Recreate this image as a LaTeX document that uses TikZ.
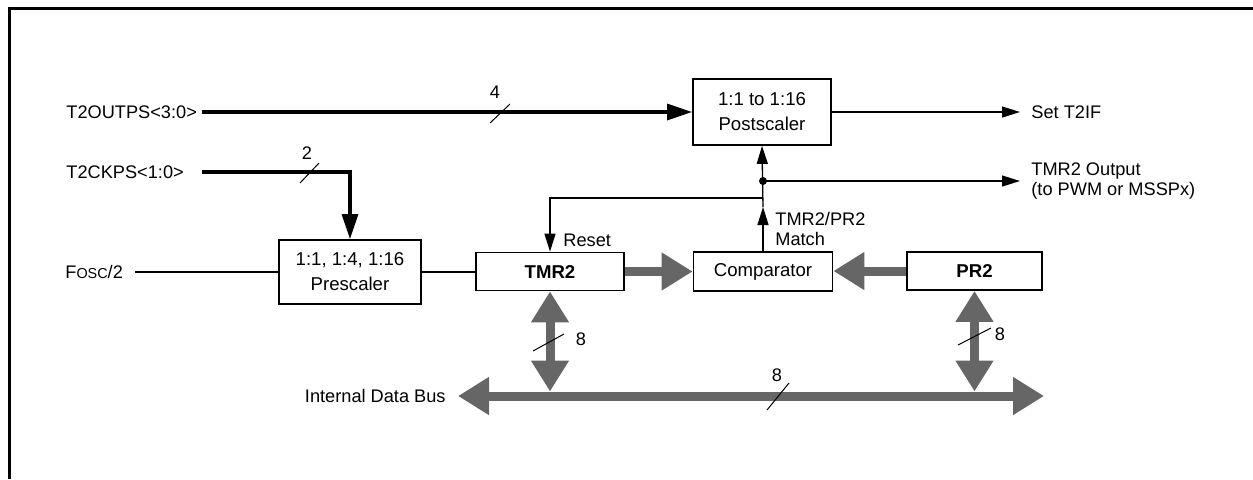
\documentclass[tikz,border=0pt]{standalone}
\usepackage{fontspec}
\setmainfont{Liberation Sans}
\usetikzlibrary{arrows.meta,positioning,calc}
\definecolor{busgray}{RGB}{102,102,102}

\begin{document}
\begin{tikzpicture}[x=0.5pt,y=-0.5pt,
    font=\fontsize{9.1}{10}\selectfont,
    blk/.style={draw=black,line width=0.9pt,align=center,inner sep=0pt,font=\fontsize{9.3}{12.5}\selectfont},
    sig/.style={inner sep=0pt,align=left},
    wire/.style={line width=0.65pt},
    wirearr/.style={wire,-{Triangle[length=9pt,width=5.5pt]}},
    ctrl/.style={line width=1.6pt,-{Triangle[length=12.5pt,width=8pt]}},
    bus/.style={draw=busgray,line width=4.5pt,-{Triangle[length=15.5pt,width=18pt]}},
    busboth/.style={bus,{Triangle[length=15.5pt,width=18pt]}-{Triangle[length=15.5pt,width=18pt]}},
    buscut/.style={line width=0.5pt}]

    \useasboundingbox (0,0) rectangle (1253,479);
    \draw[line width=1.5pt] (9.5,479) -- (9.5,8) -- (1253,8);

    % blocks
    \node[blk,minimum width=69pt,minimum height=33pt] (post) at (762,112) {1:1 to 1:16\\Postscaler};
    \node[blk,minimum width=71pt,minimum height=32pt] (pre) at (350,272) {1:1, 1:4, 1:16\\Prescaler};
    \node[blk,minimum width=74pt,minimum height=19pt] (tmr) at (550,271.5) {\textbf{TMR2}};
    \node[blk,minimum width=69.5pt,minimum height=19.5pt] (cmp) at (763,271.5) {Comparator};
    \node[blk,minimum width=67.5pt,minimum height=19pt] (pr) at (974.5,271) {\textbf{PR2}};

    % signal names
    \node[sig,anchor=west] (outps) at (66,112) {T2OUTPS<3:0>};
    \node[sig,anchor=west] (ckps) at (66,172) {T2CKPS<1:0>};
    \node[sig,anchor=west] (fosc) at (65,272) {F{\fontsize{7.2}{8}\selectfont OSC}/2};
    \node[sig,anchor=east] (idb) at (446,396) {Internal Data Bus};

    \coordinate (outpsL) at (202,112);
    \coordinate (ckpsL) at (202,172);
    \coordinate (ckpsC) at (pre.north |- ckpsL);
    \coordinate (foscR) at (135,272);
    \coordinate (setif) at (1020,112);
    \coordinate (tmrout) at (1020,181);
    \coordinate (dot) at (cmp.north |- tmrout);
    \coordinate (rstR) at (cmp.north |- 0,198);
    \coordinate (rstL) at (tmr.north |- rstR);
    \coordinate (matchtip) at (cmp.north |- 0,207);
    \coordinate (busL) at (458,396);
    \coordinate (busR) at (1044,396);

    % black lines
    \draw[ctrl] (outpsL) -- (post.west);
    \draw[ctrl] (ckpsL) -- (ckpsC) -- (pre.north);
    \draw[wire] (foscR) -- (pre.west);
    \draw[wire] (pre.east) -- (pre.east -| tmr.west);
    \draw[wirearr] (post.east) -- (setif);
    \node[sig,right=5.5pt of setif] (setiftxt) {Set T2IF};
    \draw[wirearr] (dot) -- (tmrout);
    \node[sig,right=5.5pt of tmrout] (tmrouttxt) {TMR2 Output\\(to PWM or MSSPx)};
    \fill (dot) circle[radius=2pt];
    \draw[wirearr] (cmp.north) -- (matchtip);
    \draw[wirearr] (matchtip) -- (post.south);
    \draw[wirearr] (rstR) -- (rstL) -- (tmr.north);
    \node[sig,anchor=west] (rsttxt) at (563,240) {Reset};
    \node[sig,anchor=west] (matchtxt) at (775,229) {TMR2/PR2\\Match};

    % data buses
    \draw[bus] (tmr.east) -- (tmr.east -| cmp.west);
    \draw[bus] (pr.west) -- (pr.west -| cmp.east);
    \draw[busboth] (tmr.south) -- ([yshift=2.25pt]tmr.south |- busL);
    \draw[busboth] (pr.south) -- ([yshift=2.25pt]pr.south |- busL);
    \draw[busboth] (busL) -- (busR);

    % bus widths
    \draw[buscut] (490,123) -- (510,104);
    \node (w4) at (495,92) {4};
    \draw[buscut] (300,183) -- (319,163);
    \node (w2) at (307,153) {2};
    \draw[buscut] (533,351) -- (564,334);
    \node (w8a) at (581,339) {8};
    \draw[buscut] (958,345) -- (991,328);
    \node (w8b) at (1000,334) {8};
    \draw[buscut] (767,410) -- (789,383);
    \node (w8c) at (777,375) {8};

\end{tikzpicture}
\end{document}
